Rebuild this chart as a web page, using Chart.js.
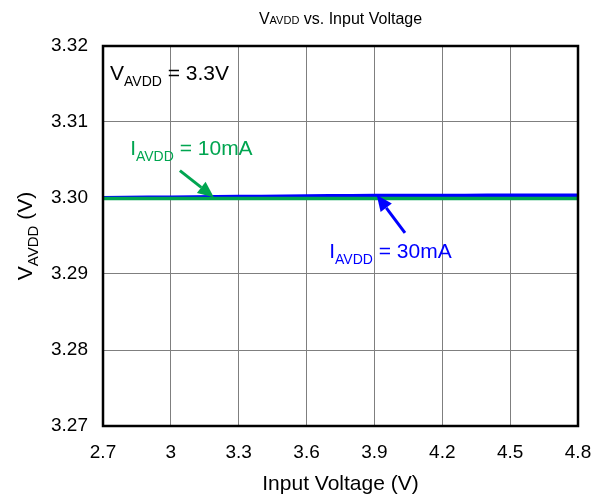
<!DOCTYPE html>
<html>
<head>
<meta charset="utf-8">
<script src="https://cdn.jsdelivr.net/npm/chart.js@4"></script>
<style>
html,body{margin:0;padding:0;background:#fff;}
#wrap{width:600px;height:502px;position:relative;}
</style>
</head>
<body>
<div id="wrap"><canvas id="c" width="600" height="502"></canvas></div>
<script>
const inputVoltage = [2.7,2.8,2.9,3.0,3.1,3.2,3.3,3.4,3.5,3.6,3.7,3.8,3.9,4.0,4.1,4.2,4.3,4.4,4.5,4.6,4.7,4.8];
const vavdd10mA = [3.29993,3.29993,3.29993,3.29993,3.29993,3.29993,3.29993,3.29993,3.29993,3.29993,3.29993,3.29993,3.29993,3.29993,3.29993,3.29993,3.29993,3.29993,3.29993,3.29993,3.29993,3.29993];
const vavdd30mA = [3.30000,3.30003,3.30005,3.30008,3.30010,3.30012,3.30015,3.30018,3.30020,3.30022,3.30025,3.30027,3.30030,3.30030,3.30031,3.30031,3.30031,3.30032,3.30032,3.30032,3.30032,3.30032];
const xTicks = [2.7,3.0,3.3,3.6,3.9,4.2,4.5,4.8];
const yTicks = [3.27,3.28,3.29,3.30,3.31,3.32];

const FONT = "Arial, 'Liberation Sans', sans-serif";
const GREEN = '#00A550';
const BLUE = '#0000FF';

function drawSub(ctx, parts, x, y, align) {
  let total = 0;
  parts.forEach(p => { ctx.font = p[1] + 'px ' + FONT; total += ctx.measureText(p[0]).width; });
  let cx = align === 'center' ? x - total / 2 : x;
  parts.forEach(p => {
    ctx.font = p[1] + 'px ' + FONT;
    ctx.textAlign = 'left';
    ctx.textBaseline = 'alphabetic';
    ctx.fillText(p[0], cx, y + p[2]);
    cx += ctx.measureText(p[0]).width;
  });
}

function arrow(ctx, x1, y1, x2, y2, color) {
  const ang = Math.atan2(y2 - y1, x2 - x1);
  const hl = 16, hw = 7;
  const bx = x2 - hl * Math.cos(ang), by = y2 - hl * Math.sin(ang);
  ctx.strokeStyle = color; ctx.fillStyle = color; ctx.lineWidth = 3;
  ctx.beginPath(); ctx.moveTo(x1, y1); ctx.lineTo(bx, by); ctx.stroke();
  ctx.beginPath();
  ctx.moveTo(x2, y2);
  ctx.lineTo(bx + hw * Math.sin(ang), by - hw * Math.cos(ang));
  ctx.lineTo(bx - hw * Math.sin(ang), by + hw * Math.cos(ang));
  ctx.closePath(); ctx.fill();
}

const deco = {
  id: 'deco',
  afterDraw(chart) {
    const ctx = chart.ctx, a = chart.chartArea;
    const xs = chart.scales.x, ys = chart.scales.y;
    ctx.save();
    ctx.strokeStyle = '#000'; ctx.lineWidth = 2.5;
    ctx.strokeRect(a.left, a.top, a.right - a.left, a.bottom - a.top);
    ctx.fillStyle = '#000';
    drawSub(ctx, [['V', 16, 0], ['AVDD', 11, 0], [' vs. Input Voltage', 16, 0]], (a.left + a.right) / 2, 24, 'center');
    ctx.save();
    ctx.translate(32, (a.top + a.bottom) / 2);
    ctx.rotate(-Math.PI / 2);
    drawSub(ctx, [['V', 21, 0], ['AVDD', 15, 6], [' (V)', 21, 0]], 0, 0, 'center');
    ctx.restore();
    ctx.fillStyle = '#000';
    drawSub(ctx, [['V', 21, 0], ['AVDD', 14, 6], [' = 3.3V', 21, 0]], xs.getPixelForValue(2.731), ys.getPixelForValue(3.3155), 'left');
    ctx.fillStyle = GREEN;
    drawSub(ctx, [['I', 21, 0], ['AVDD', 14, 6], [' = 10mA', 21, 0]], xs.getPixelForValue(2.82), ys.getPixelForValue(3.3057), 'left');
    ctx.fillStyle = BLUE;
    drawSub(ctx, [['I', 21, 0], ['AVDD', 14, 6], [' = 30mA', 21, 0]], xs.getPixelForValue(3.70), ys.getPixelForValue(3.2921), 'left');
    arrow(ctx, xs.getPixelForValue(3.04), ys.getPixelForValue(3.3036), xs.getPixelForValue(3.19), ys.getPixelForValue(3.3001), GREEN);
    arrow(ctx, xs.getPixelForValue(4.035), ys.getPixelForValue(3.2954), xs.getPixelForValue(3.91), ys.getPixelForValue(3.3004), BLUE);
    ctx.restore();
  }
};

new Chart(document.getElementById('c'), {
  type: 'line',
  data: {
    datasets: [
      { label: '10mA', data: inputVoltage.map((v, i) => ({x: v, y: vavdd10mA[i]})), borderColor: GREEN, borderWidth: 3.5, pointRadius: 0, tension: 0 },
      { label: '30mA', data: inputVoltage.map((v, i) => ({x: v, y: vavdd30mA[i]})), borderColor: BLUE, borderWidth: 4, pointRadius: 0, tension: 0 }
    ]
  },
  options: {
    responsive: false,
    animation: false,
    devicePixelRatio: 1,
    layout: { padding: { left: 0, right: 22, top: 46, bottom: 0 } },
    plugins: { legend: { display: false }, tooltip: { enabled: false }, title: { display: false } },
    scales: {
      x: {
        type: 'linear', min: 2.7, max: 4.8,
        afterBuildTicks: s => { s.ticks = xTicks.map(v => ({value: v})); },
        afterFit: s => { s.height = 76; s.paddingLeft = 0; s.paddingRight = 0; },
        ticks: { color: '#000', font: { family: FONT, size: 19 }, padding: 15, maxRotation: 0,
          callback: v => String(Math.round(v * 10) / 10) },
        grid: { color: '#7f7f7f', lineWidth: 1, drawTicks: false },
        border: { display: false },
        title: { display: true, text: 'Input Voltage (V)', color: '#000', font: { family: FONT, size: 21 }, padding: { top: 10, bottom: 5 } }
      },
      y: {
        type: 'linear', min: 3.27, max: 3.32,
        afterBuildTicks: s => { s.ticks = yTicks.map(v => ({value: v})); },
        afterFit: s => { s.width = 103; s.paddingTop = 0; s.paddingBottom = 0; },
        ticks: { color: '#000', font: { family: FONT, size: 19 }, padding: 15,
          callback: v => v.toFixed(2) },
        grid: { color: '#7f7f7f', lineWidth: 1, drawTicks: false },
        border: { display: false }
      }
    }
  },
  plugins: [deco]
});
</script>
</body>
</html>
